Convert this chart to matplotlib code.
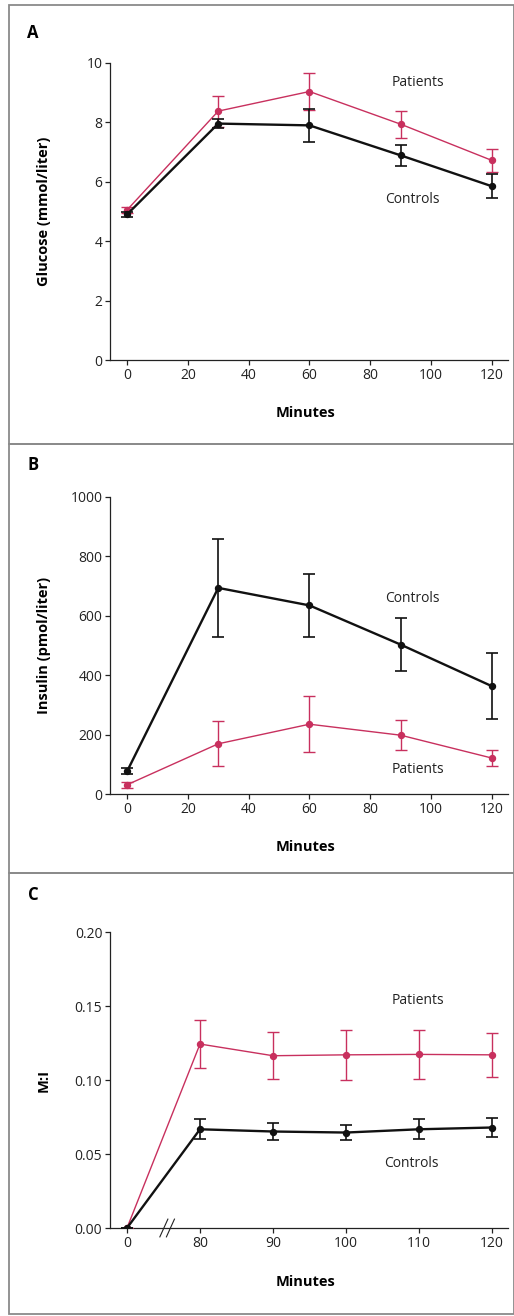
import matplotlib
matplotlib.use("Agg")
import matplotlib.pyplot as plt
from matplotlib.lines import Line2D
import numpy as np

plt.rcParams['font.family'] = ['Open Sans', 'DejaVu Sans']

# ---------------- data ----------------
minutes_ab = [0, 30, 60, 90, 120]
glucose_controls = [4.9, 7.96, 7.9, 6.89, 5.85]
glucose_controls_err = [0.07, 0.14, 0.55, 0.36, 0.41]
glucose_patients = [5.05, 8.38, 9.04, 7.94, 6.72]
glucose_patients_err = [0.1, 0.52, 0.62, 0.45, 0.4]

insulin_controls = [76, 694, 635, 503, 363]
insulin_controls_err = [10, 166, 106, 88, 112]
insulin_patients = [31, 169, 235, 198, 121]
insulin_patients_err = [11, 76, 95, 50, 26]

minutes_c = [0, 80, 90, 100, 110, 120]
mi_controls = [0.0, 0.0667, 0.0652, 0.0645, 0.0667, 0.0679]
mi_controls_err = [0.0, 0.0067, 0.0058, 0.0052, 0.0067, 0.0067]
mi_patients = [0.0, 0.1243, 0.1164, 0.1170, 0.1173, 0.1170]
mi_patients_err = [0.0, 0.016, 0.016, 0.017, 0.0167, 0.015]

xticks_ab = [0, 20, 40, 60, 80, 100, 120]
yticks_a = [0, 2, 4, 6, 8, 10]
yticks_b = [0, 200, 400, 600, 800, 1000]
xticks_c_labels = ['0', '80', '90', '100', '110', '120']
yticks_c = [0.00, 0.05, 0.10, 0.15, 0.20]

CTRL = '#111111'
PAT = '#c8305e'
W, H = 514, 1316

fig = plt.figure(figsize=(W / 100, H / 100), dpi=100)
fig.patch.set_facecolor('white')

# panel frames
frames = [(9, 5, 505, 439), (9, 444, 505, 429), (9, 873, 505, 441)]
for (x0, y0, w, h) in frames:
    r = plt.Rectangle((x0 / W, 1 - (y0 + h) / H), w / W, h / H, transform=fig.transFigure,
                      fill=False, edgecolor='#8a8a8a', linewidth=1.3)
    fig.add_artist(r)


def make_ax(top_px, bottom_px, left_px=110, right_px=508):
    return fig.add_axes([left_px / W, 1 - bottom_px / H, (right_px - left_px) / W,
                         (bottom_px - top_px) / H])


def style(ax):
    for s in ['top', 'right']:
        ax.spines[s].set_visible(False)
    for s in ['left', 'bottom']:
        ax.spines[s].set_linewidth(0.9)
        ax.spines[s].set_color('#222222')
    ax.tick_params(direction='out', length=3.5, width=0.9, labelsize=10, colors='#222222',
                   pad=2)
    ax.set_facecolor('none')


def series(ax, x, y, e, color, lw, elw, z):
    ax.errorbar(x, y, yerr=e, color=color, lw=lw, elinewidth=elw, capsize=4.2, capthick=elw,
                marker='o', ms=4.3, mec=color, mfc=color, zorder=z)


def labels(ax, ylabel, letter, letter_y_px, xlab_y=-0.155):
    ax.set_ylabel(ylabel, fontsize=10.5, fontweight='bold')
    ax.yaxis.set_label_coords(-0.148, 0.5)
    ax.set_xlabel('Minutes', fontsize=10.5, fontweight='bold')
    ax.xaxis.set_label_coords(0.49, xlab_y)
    fig.text(33 / W, 1 - letter_y_px / H, letter, fontsize=12, fontweight='bold',
             ha='center', va='center')


# ---------- Panel A ----------
axA = make_ax(63, 360)
style(axA)
series(axA, minutes_ab, glucose_patients, glucose_patients_err, PAT, 1.0, 1.0, 3)
series(axA, minutes_ab, glucose_controls, glucose_controls_err, CTRL, 1.7, 1.2, 4)
axA.set_xlim(-5.6, 125.3)
axA.set_ylim(0, 10)
axA.set_xticks(xticks_ab)
axA.set_yticks(yticks_a)
axA.text(95.7, 9.33, 'Patients', fontsize=10, ha='center', va='center', color='#222222')
axA.text(93.7, 5.42, 'Controls', fontsize=10, ha='center', va='center', color='#222222')
labels(axA, 'Glucose (mmol/liter)', 'A', 33)

# ---------- Panel B ----------
axB = make_ax(497, 794)
style(axB)
series(axB, minutes_ab, insulin_patients, insulin_patients_err, PAT, 1.0, 1.0, 3)
series(axB, minutes_ab, insulin_controls, insulin_controls_err, CTRL, 1.7, 1.2, 4)
axB.set_xlim(-5.6, 125.3)
axB.set_ylim(0, 1000)
axB.set_xticks(xticks_ab)
axB.set_yticks(yticks_b)
axB.text(93.7, 657, 'Controls', fontsize=10, ha='center', va='center', color='#222222')
axB.text(95.7, 84, 'Patients', fontsize=10, ha='center', va='center', color='#222222')
labels(axB, 'Insulin (pmol/liter)', 'B', 465)

# ---------- Panel C (broken axis: 0 then 80..120) ----------
axC = make_ax(932, 1228)
style(axC)
pos_c = [70] + minutes_c[1:]
series(axC, pos_c, mi_patients, mi_patients_err, PAT, 1.0, 1.0, 3)
series(axC, pos_c, mi_controls, mi_controls_err, CTRL, 1.7, 1.2, 4)
axC.set_xlim(67.67, 122.2)
axC.set_ylim(0, 0.20)
axC.set_xticks(pos_c)
axC.set_xticklabels(xticks_c_labels)
axC.set_yticks(yticks_c)
axC.set_yticklabels(['0.00', '0.05', '0.10', '0.15', '0.20'])
axC.text(109.9, 0.1534, 'Patients', fontsize=10, ha='center', va='center', color='#222222')
axC.text(109.0, 0.0439, 'Controls', fontsize=10, ha='center', va='center', color='#222222')
# axis break marks
for dx in (-0.45, 0.45):
    axC.add_line(Line2D([75.5 + dx - 0.55, 75.5 + dx + 0.55], [-0.006, 0.006],
                        color='#222222', lw=0.8, clip_on=False, zorder=5))
labels(axC, 'M:I', 'C', 895, xlab_y=-0.16)

fig.savefig('out.png', dpi=100, facecolor='white')
